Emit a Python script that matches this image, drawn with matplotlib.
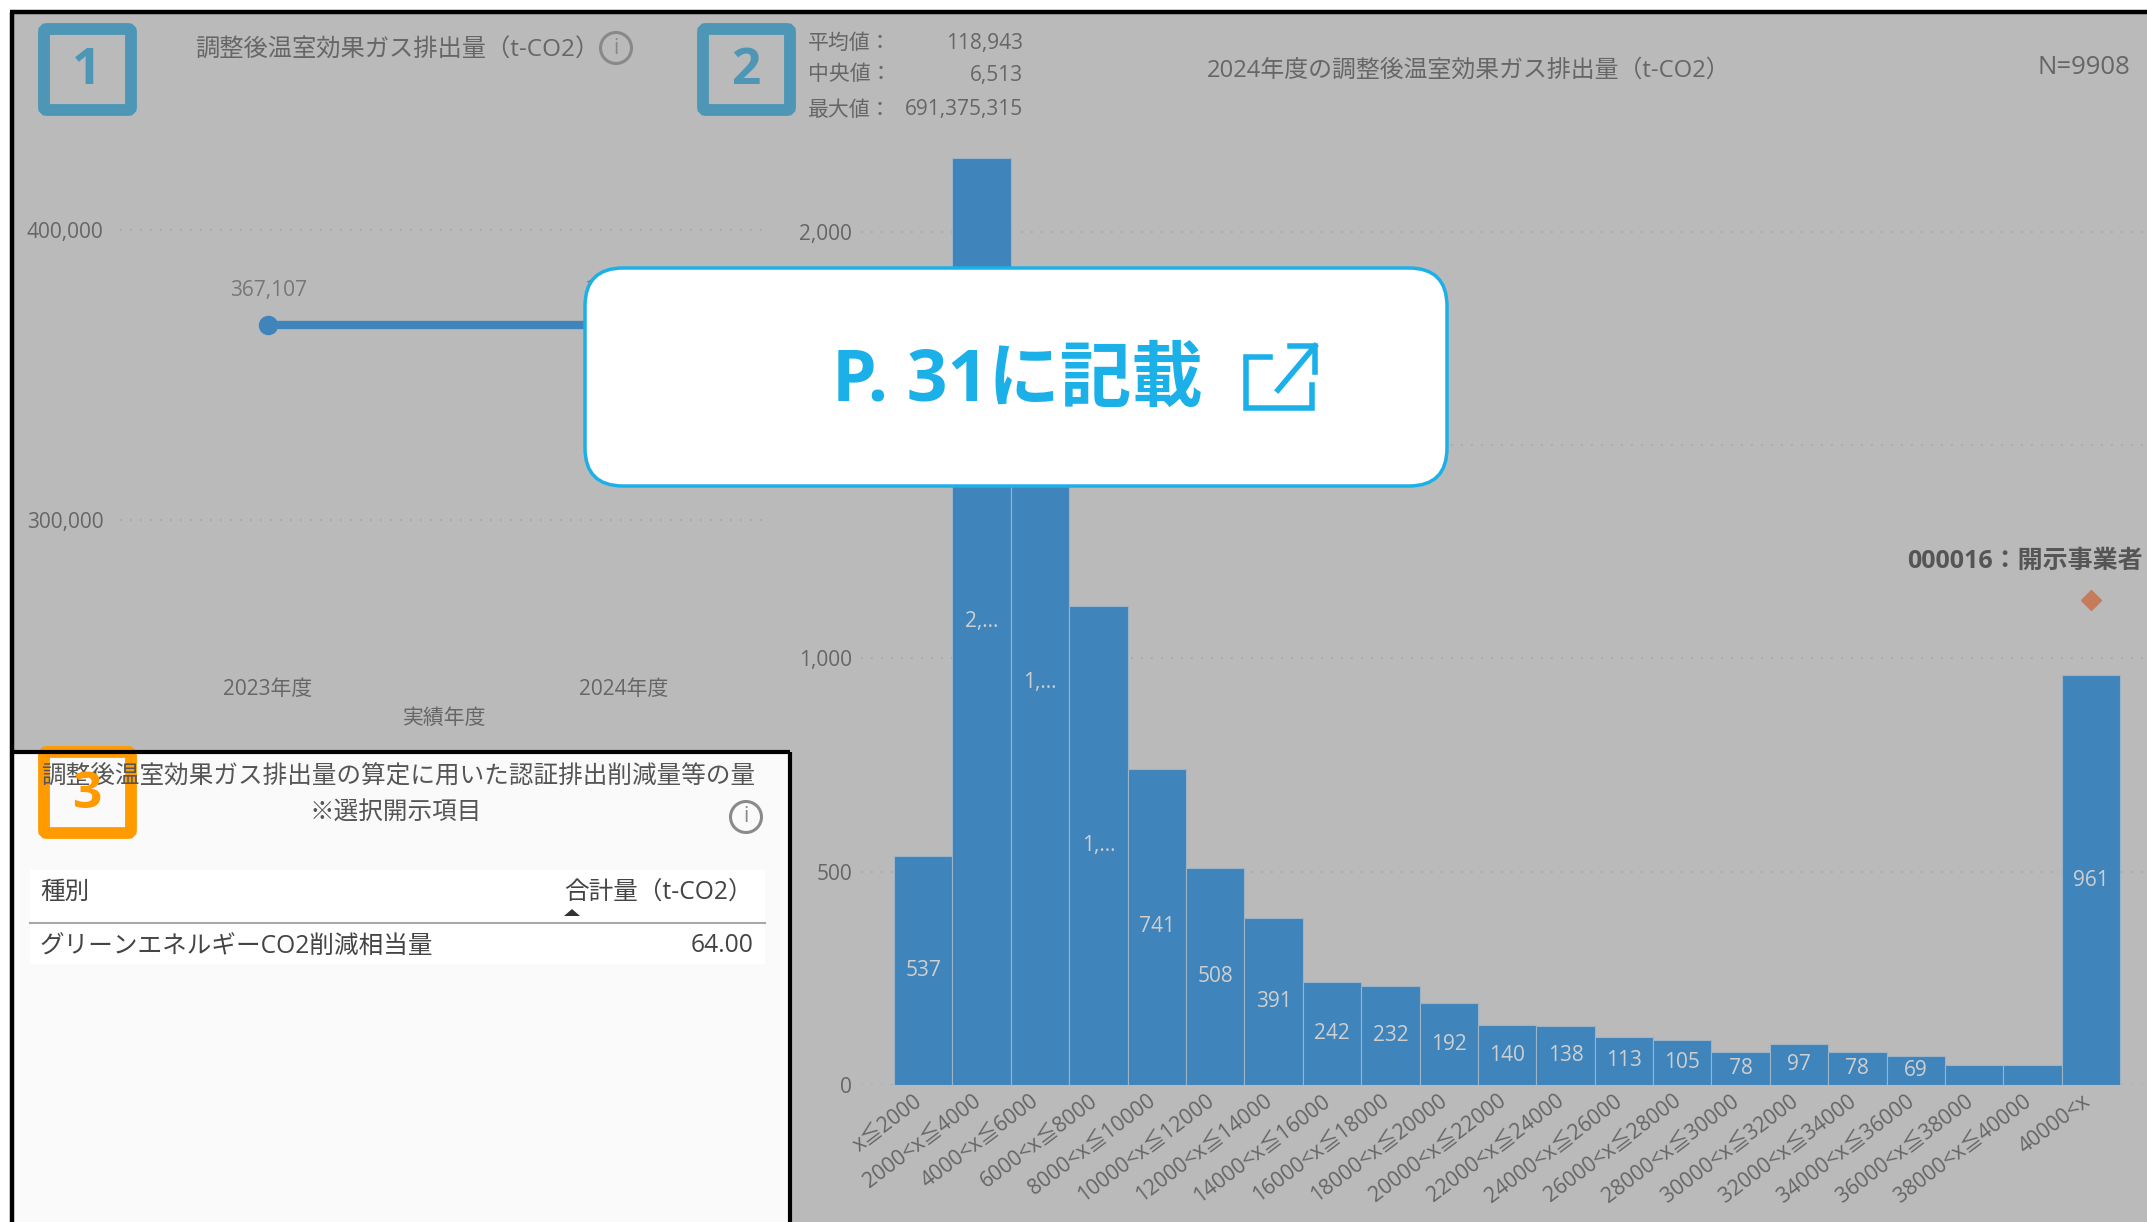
import matplotlib
matplotlib.use('Agg')
import matplotlib.pyplot as plt
from matplotlib.patches import Rectangle, FancyBboxPatch, Circle, Polygon
from matplotlib.transforms import ScaledTranslation

plt.rcParams['font.family'] = ['Open Sans', 'Noto Sans CJK JP', 'DejaVu Sans']

# 年度ごとの排出量
years = ['2023年度', '2024年度']
emissions = [367107, 367107]
emission_labels = ['367,107', '367,107']
line_ticks = [300000, 400000]
line_tick_labels = ['300,000', '400,000']

# ヒストグラム
bins = ['x≦2000', '2000<x≦4000', '4000<x≦6000', '6000<x≦8000', '8000<x≦10000',
        '10000<x≦12000', '12000<x≦14000', '14000<x≦16000', '16000<x≦18000',
        '18000<x≦20000', '20000<x≦22000', '22000<x≦24000', '24000<x≦26000',
        '26000<x≦28000', '28000<x≦30000', '30000<x≦32000', '32000<x≦34000',
        '34000<x≦36000', '36000<x≦38000', '38000<x≦40000', '40000<x']
counts = [537, 2173, 1885, 1122, 741, 508, 391, 242, 232, 192, 140, 138, 113, 105,
          78, 97, 78, 69, 47, 47, 961]
count_labels = ['537', '2,...', '1,...', '1,...', '741', '508', '391', '242', '232', '192',
                '140', '138', '113', '105', '78', '97', '78', '69', '', '', '961']
hist_ticks = [0, 500, 1000, 1500, 2000]
hist_tick_labels = ['0', '500', '1,000', '1,500', '2,000']
marker_bin = 20
marker_count = 1138

stat_names = ['平均値：', '中央値：', '最大値：']
stat_values = ['118,943', '6,513', '691,375,315']

W, H = 2147, 1222
GRAY = '#bababa'
BLUE = '#3f84bb'
TXT = '#666666'
GRID = '#a6a6a6'


def axes_px(x0, y0, x1, y1, **kw):
    # ピクセル座標（上が0）で軸を置く
    return fig.add_axes([x0 / W, 1 - y1 / H, (x1 - x0) / W, (y1 - y0) / H], **kw)


fig = plt.figure(figsize=(W / 100, H / 100), dpi=100, facecolor='white')

# 背景
bg = axes_px(0, 0, W, H, zorder=0)
bg.set_xlim(0, W)
bg.set_ylim(H, 0)
bg.axis('off')
bg.add_patch(Rectangle((12, 12), W, H, fc=GRAY, ec='none'))
bg.add_patch(Rectangle((14, 752), 776, 480, fc='#fafafa', ec='none'))

# 1: 折れ線
ax1 = axes_px(120, 100, 765, 660, zorder=1)
ax1.patch.set_alpha(0)
ax1.plot(range(len(years)), emissions, color=BLUE, lw=6, marker='o', ms=13, zorder=3)
ax1.set_xlim(-0.416, 1.396)
ax1.set_ylim(251724, 444828)
ax1.set_yticks(line_ticks, line_tick_labels)
ax1.set_xticks(range(len(years)), years)
ax1.tick_params(length=0, labelsize=15, labelcolor=TXT)
ax1.tick_params(axis='y', pad=12)
ax1.tick_params(axis='x', pad=14)
ax1.grid(axis='y', color=GRID, ls=(0, (1, 5)), lw=1.2)
ax1.set_axisbelow(True)
for s in ax1.spines.values():
    s.set_visible(False)
for i, v in enumerate(emissions):
    ax1.annotate(emission_labels[i], (i, v), xytext=(0, 25), textcoords='offset points',
                 ha='center', va='center', fontsize=15, color='#777777')

# 2: ヒストグラム
ax2 = axes_px(861, 100, W, 1085, zorder=1)
ax2.patch.set_alpha(0)
ax2.bar(range(len(bins)), counts, width=1.0, color=BLUE, edgecolor='#9db3c6', lw=0.8, zorder=3)
ax2.set_xlim(-1.066, 20.96)
ax2.set_ylim(0, 2309)
ax2.set_yticks(hist_ticks, hist_tick_labels)
ax2.set_xticks(range(len(bins)), bins, rotation=37, ha='right', rotation_mode='anchor')
ax2.tick_params(length=0, labelsize=15, labelcolor=TXT)
ax2.tick_params(axis='y', pad=6.5)
ax2.tick_params(axis='x', labelsize=15.2, pad=4)
shift = ScaledTranslation(-7 / 72, 0, fig.dpi_scale_trans)
for lab in ax2.get_xticklabels():
    lab.set_transform(lab.get_transform() + shift)
ax2.grid(axis='y', color=GRID, ls=(0, (1, 5)), lw=1.2)
ax2.set_axisbelow(True)
for s in ax2.spines.values():
    s.set_visible(False)
for i, v in enumerate(counts):
    ax2.text(i, v / 2, count_labels[i], ha='center', va='center', fontsize=15, color='#cfcfcf', zorder=4)
ax2.plot([marker_bin], [marker_count], marker='D', ms=10, color='#c67c5a', ls='none', zorder=4)

# 上に重ねる文字と枠
top = axes_px(0, 0, W, H, zorder=5)
top.set_xlim(0, W)
top.set_ylim(H, 0)
top.axis('off')
top.patch.set_alpha(0)

top.plot([10, W], [12, 12], color='black', lw=3.2, solid_capstyle='butt')
top.plot([12, 12], [12, H], color='black', lw=3.2, solid_capstyle='butt')
top.plot([12, 790], [752, 752], color='black', lw=3, solid_capstyle='butt')
top.plot([790, 790], [752, H], color='black', lw=3, solid_capstyle='butt')

top.text(195, 51, '調整後温室効果ガス排出量（t-CO2）', fontsize=17.5, color=TXT, va='center')
top.text(445, 718, '実績年度', fontsize=15, color=TXT, ha='center', va='center')
top.text(1207, 71, '2024年度の調整後温室効果ガス排出量（t-CO2）', fontsize=17.2, color=TXT, va='center')
top.text(2130, 68, 'N=9908', fontsize=18.5, color=TXT, ha='right', va='center')
top.text(2143, 561, '000016：開示事業者', fontsize=18, color='#555555', ha='right', va='center', fontweight='bold')
for y, name, val in zip([43, 75, 110], stat_names, stat_values):
    top.text(808, y, name, fontsize=15, color=TXT, va='center')
    top.text(1023, y, val, fontsize=15, color=TXT, ha='right', va='center')

# 3: 表
top.text(398, 777, '調整後温室効果ガス排出量の算定に用いた認証排出削減量等の量', fontsize=17.7,
         color='#555555', ha='center', va='center')
top.text(396, 813, '※選択開示項目', fontsize=17.7, color='#555555', ha='center', va='center')
top.add_patch(Rectangle((30, 870), 735, 94, fc='white', ec='none'))
top.plot([30, 765], [923, 923], color='#a8a8a8', lw=1.5)
top.text(40, 892, '種別', fontsize=17.7, color='#444444', va='center')
top.text(564, 892, '合計量（t-CO2）', fontsize=17.7, color='#444444', va='center')
top.add_patch(Polygon([[564, 916], [580, 916], [572, 909]], fc='#333333', ec='none'))
top.text(40, 947, 'グリーンエネルギーCO2削減相当量', fontsize=17.7, color='#444444', va='center')
top.text(754, 945, '64.00', fontsize=17.7, color='#444444', ha='right', va='center')

# iマーク
for cx, cy, col in [(616, 48, '#888888'), (746, 817, '#8a8a8a')]:
    top.add_patch(Circle((cx, cy), 15.5, fc='none', ec=col, lw=2.2))
    top.text(cx, cy, 'i', fontsize=15, color=col, ha='center', va='center')

# 番号の枠
for x0, y0, y1, col, num in [(38, 23, 116, '#4d96b5', '1'), (697, 23, 116, '#4d96b5', '2'),
                             (38, 746, 839, '#ff9b00', '3')]:
    top.add_patch(FancyBboxPatch((x0 + 6, y0 + 6), 87, y1 - y0 - 12, boxstyle='round,pad=0,rounding_size=3',
                                 fc='none', ec=col, lw=8.5))
    top.text(x0 + 49, (y0 + y1) / 2 + 2, num, fontsize=37, fontweight='bold', color=col, ha='center', va='center')

# P.31 の吹き出し
CY = '#1cb0e8'
top.add_patch(FancyBboxPatch((585, 268), 862, 218, boxstyle='round,pad=0,rounding_size=38',
                             fc='white', ec=CY, lw=2.5))
top.text(832, 382, 'P. 31に記載', fontsize=51.5, fontweight='bold', color=CY, va='center')
top.plot([1270, 1246, 1246, 1312, 1312], [357, 357, 408, 408, 385], color=CY, lw=4, solid_joinstyle='miter')
top.plot([1278, 1315], [390, 346], color=CY, lw=4)
top.plot([1290, 1315, 1315], [346, 346, 372], color=CY, lw=4, solid_joinstyle='miter')

fig.savefig('out.png', dpi=100)
